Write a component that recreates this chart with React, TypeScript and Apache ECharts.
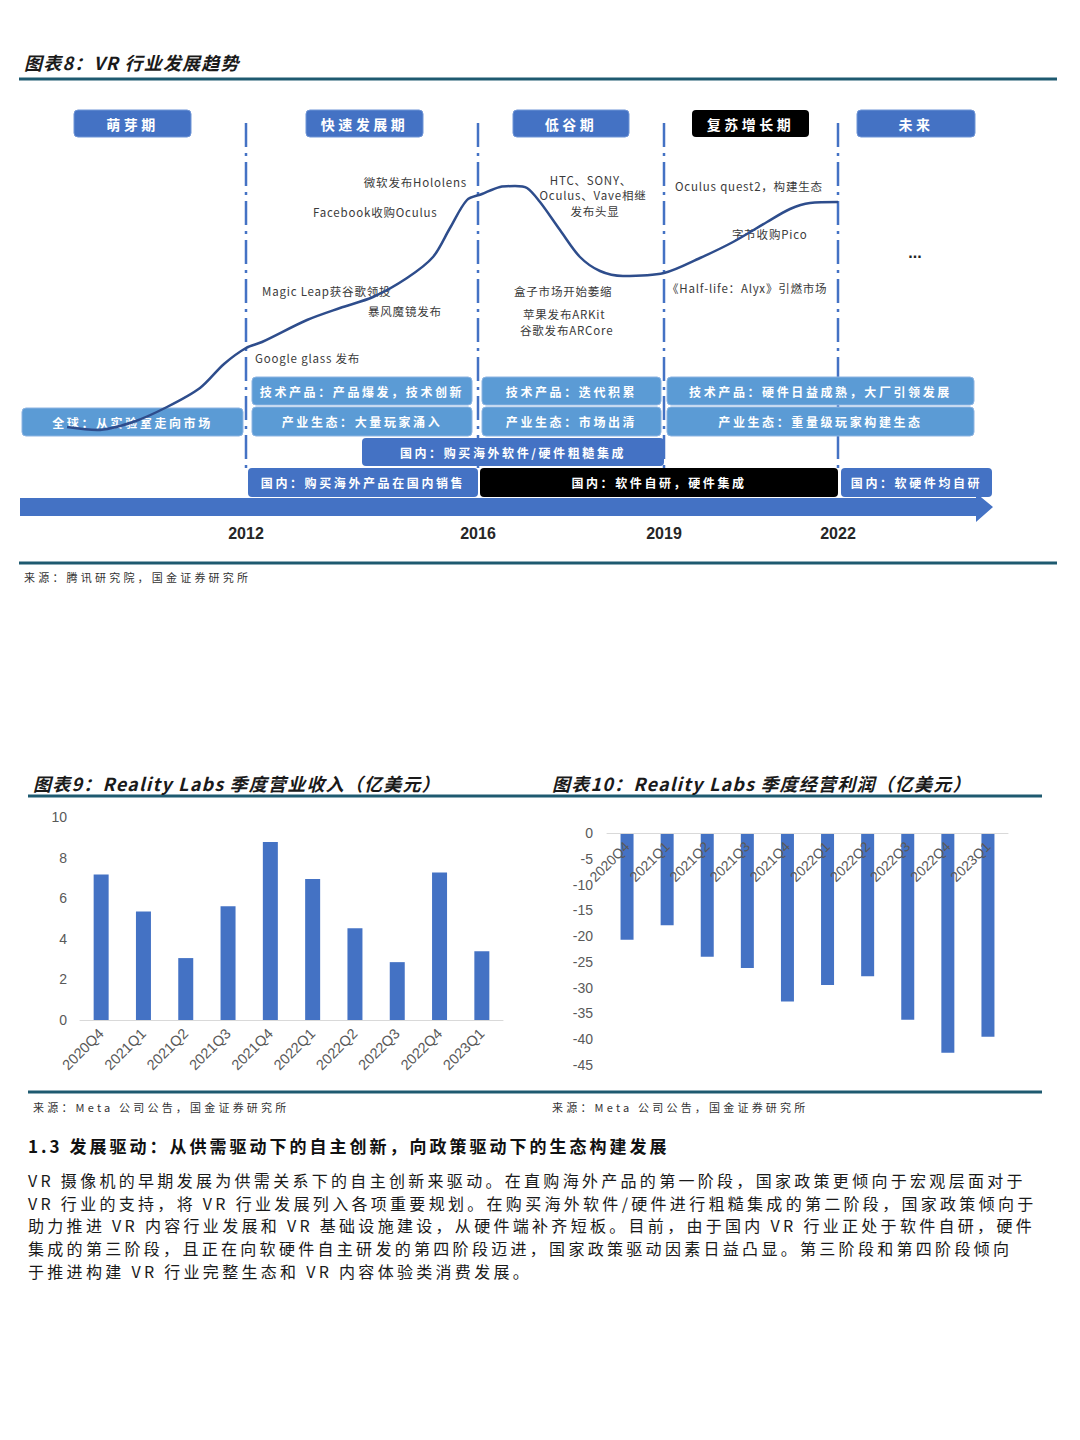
import React, { useEffect, useRef } from "react";
import * as echarts from "echarts";

// ---------------- data ----------------
const quarters = ["2020Q4", "2021Q1", "2021Q2", "2021Q3", "2021Q4", "2022Q1", "2022Q2", "2022Q3", "2022Q4", "2023Q1"];
const revenue = [7.17, 5.34, 3.05, 5.6, 8.77, 6.95, 4.52, 2.85, 7.27, 3.39];
const operatingProfit = [-20.7, -17.9, -24.0, -26.2, -32.7, -29.5, -27.8, -36.2, -42.6, -39.5];
const revenueTicks = { min: 0, max: 10, interval: 2 };
const profitTicks = { min: -45, max: 0, interval: 5 };

// schematic industry "heat" curve (timeline position, heat index)
const trendPos = [47, 77, 113, 147, 180, 204, 226, 242, 287, 320, 353, 387, 413, 430, 447, 462, 480, 495, 507, 520, 540, 560, 580, 603, 644, 680, 713, 747, 770, 790, 818];
const trendHeat = [73, 70, 78, 93, 112, 136, 152, 158, 180, 192, 203, 222, 243, 272, 300, 306, 313, 314, 312, 298, 270, 243, 229, 224, 227, 242, 258, 278, 291, 297, 298];

const phases = ["萌芽期", "快速发展期", "低谷期", "复苏增长期", "未来"];
const yearTicks = ["2012", "2016", "2019", "2022"];
const techRow = ["技术产品：产品爆发，技术创新", "技术产品：迭代积累", "技术产品：硬件日益成熟，大厂引领发展"];
const ecoRow = ["全球：从实验室走向市场", "产业生态：大量玩家涌入", "产业生态：市场出清", "产业生态：重量级玩家构建生态"];
const domesticRowA = ["国内：购买海外软件/硬件粗糙集成"];
const domesticRowB = ["国内：购买海外产品在国内销售", "国内：软件自研，硬件集成", "国内：软硬件均自研"];
const events = [
  "微软发布Hololens",
  "Facebook收购Oculus",
  "Magic Leap获谷歌领投",
  "暴风魔镜发布",
  "Google glass 发布",
  "HTC、SONY、",
  "Oculus、Vave相继",
  "发布头显",
  "盒子市场开始萎缩",
  "苹果发布ARKit",
  "谷歌发布ARCore",
  "Oculus quest2，构建生态",
  "字节收购Pico",
  "《Half-life：Alyx》引燃市场",
];
const titles = ["图表8：VR 行业发展趋势", "图表9：Reality Labs 季度营业收入（亿美元）", "图表10：Reality Labs 季度经营利润（亿美元）"];
const sources = ["来源：腾讯研究院，国金证券研究所", "来源：Meta 公司公告，国金证券研究所", "来源：Meta 公司公告，国金证券研究所"];
const heading = "1.3 发展驱动：从供需驱动下的自主创新，向政策驱动下的生态构建发展";
const paragraph = [
  "VR 摄像机的早期发展为供需关系下的自主创新来驱动。在直购海外产品的第一阶段，国家政策更倾向于宏观层面对于",
  "VR 行业的支持，将 VR 行业发展列入各项重要规划。在购买海外软件/硬件进行粗糙集成的第二阶段，国家政策倾向于",
  "助力推进 VR 内容行业发展和 VR 基础设施建设，从硬件端补齐短板。目前，由于国内 VR 行业正处于软件自研，硬件",
  "集成的第三阶段，且正在向软硬件自主研发的第四阶段迈进，国家政策驱动因素日益凸显。第三阶段和第四阶段倾向",
  "于推进构建 VR 行业完整生态和 VR 内容体验类消费发展。",
];

// ---------------- layout & style ----------------
const CJK = "'Noto Sans CJK SC', sans-serif";
const LAT = "'Liberation Sans', Arial, sans-serif";
const BLUE = "#4472c4";
const LIGHT = "#5b9bd5";
const RULE = "#1e5a70";

const phaseBoxes = [
  [74, 110, 117, 27, BLUE],
  [306, 110, 117, 27, BLUE],
  [513, 110, 116, 27, BLUE],
  [692, 110, 117, 27, "#000000"],
  [857, 110, 118, 27, BLUE],
];
const dividerX = [246, 478, 664, 838];
const techBoxes = [
  [252, 377, 220, 28],
  [482, 377, 179, 28],
  [667, 377, 307, 28],
];
const ecoBoxes = [
  [22, 408, 221, 28],
  [252, 407, 220, 29],
  [482, 407, 179, 29],
  [667, 407, 307, 29],
];
const domABoxes = [[362, 438, 302, 28, BLUE]];
const domBBoxes = [
  [248, 468, 230, 29, BLUE],
  [480, 468, 358, 29, "#000000"],
  [841, 468, 151, 29, BLUE],
];
// [x, y, align]
const eventLayout: [number, number, string][] = [
  [467, 182, "right"],
  [313, 212, "left"],
  [262, 291, "left"],
  [368, 311, "left"],
  [255, 358, "left"],
  [591, 180, "center"],
  [593, 195, "center"],
  [595, 211, "center"],
  [514, 291, "left"],
  [523, 314, "left"],
  [520, 330, "left"],
  [675, 186, "left"],
  [732, 234, "left"],
  [667, 288, "left"],
];

const css = `
#vr-page text[style*="CJK"][style*="18px"]{letter-spacing:1.2px}
#vr-page text[style*="CJK"][style*="17px"]{letter-spacing:3px}
#vr-page text[style*="CJK"][style*="16px"]{letter-spacing:3.3px}
#vr-page text[style*="CJK"][style*="14px"]{letter-spacing:3.5px}
#vr-page text[style*="CJK"][style*="12px"]{letter-spacing:2.6px}
#vr-page text[style*="CJK"][style*="11.5px"]{letter-spacing:0.8px}
#vr-page text[style*="CJK"][style*="11px"]{letter-spacing:3.2px}
`;

function rect(b: any[], fill: string, stroke = "none") {
  return {
    type: "rect",
    z: 1,
    shape: { x: b[0], y: b[1], width: b[2], height: b[3], r: 4 },
    style: { fill, stroke, lineWidth: 1 },
  };
}
function text(x: number, y: number, t: string, size: number, o: any = {}) {
  return {
    type: "text",
    z: 2,
    x,
    y,
    style: {
      text: t,
      fontSize: size,
      fontFamily: o.family || CJK,
      fontWeight: o.weight || "normal",
      fontStyle: o.style || "normal",
      fill: o.fill || "#222222",
      align: o.align || "left",
      verticalAlign: "middle",
    },
  };
}
function hline(x1: number, x2: number, y: number, w = 3, color = RULE) {
  return { type: "line", z: 1, shape: { x1, y1: y, x2, y2: y }, style: { stroke: color, lineWidth: w } };
}
function boxWithText(b: any[], t: string, fill: string, size: number, stroke = "none") {
  return [
    rect(b, fill, stroke),
    text(b[0] + b[2] / 2, b[1] + b[3] / 2, t, size, { fill: "#ffffff", weight: "bold", align: "center" }),
  ];
}

function buildGraphics() {
  const els: any[] = [];
  els.push(text(24, 62, titles[0], 18, { weight: "bold", style: "italic", fill: "#1a1a1a" }));
  els.push(hline(19, 1057, 79));
  dividerX.forEach((x) =>
    els.push({
      type: "line",
      z: 0,
      shape: { x1: x, y1: 123, x2: x, y2: 468 },
      style: { stroke: BLUE, lineWidth: 2.5, lineDash: [24, 6, 3, 6] },
    })
  );
  els.push({
    type: "polygon",
    z: 0,
    shape: { points: [[20, 498], [976, 498], [976, 493], [993, 507], [976, 522], [976, 516], [20, 516]] },
    style: { fill: BLUE },
  });
  phases.forEach((p, i) => {
    const b = phaseBoxes[i];
    els.push(...boxWithText(b, p, b[4] as string, 14, b[4] === BLUE ? "#6f95d6" : "none"));
  });
  techRow.forEach((t, i) => els.push(...boxWithText(techBoxes[i], t, LIGHT, 12, "#8db4e2")));
  ecoRow.forEach((t, i) => els.push(...boxWithText(ecoBoxes[i], t, LIGHT, 12, "#8db4e2")));
  domesticRowA.forEach((t, i) => els.push(...boxWithText(domABoxes[i], t, domABoxes[i][4] as string, 12)));
  domesticRowB.forEach((t, i) => els.push(...boxWithText(domBBoxes[i], t, domBBoxes[i][4] as string, 12)));
  events.forEach((t, i) => {
    const [x, y, align] = eventLayout[i];
    els.push(text(x, y, t, 11.5, { fill: "#3a3a3a", align }));
  });
  els.push(text(915, 252, "...", 16, { family: LAT, weight: "bold", fill: "#222222", align: "center" }));
  yearTicks.forEach((t, i) =>
    els.push(text(dividerX[i], 533, t, 16, { family: LAT, weight: "bold", fill: "#262626", align: "center" }))
  );
  els.push(hline(19, 1057, 563));
  els.push(text(24, 577, sources[0], 11, { fill: "#333333" }));

  els.push(text(33, 783, titles[1], 18, { weight: "bold", style: "italic", fill: "#1a1a1a" }));
  els.push(text(552, 783, titles[2], 18, { weight: "bold", style: "italic", fill: "#1a1a1a" }));
  els.push(hline(28, 1042, 796));
  els.push(hline(28, 1042, 1092));
  els.push(text(33, 1107, sources[1], 11, { fill: "#333333" }));
  els.push(text(552, 1107, sources[2], 11, { fill: "#333333" }));

  els.push(text(28, 1145, heading, 17, { weight: "bold", fill: "#111111" }));
  const lineY = [1180, 1202.5, 1225, 1248, 1270.5];
  paragraph.forEach((p, i) => els.push(text(28, lineY[i], p, 16, { fill: "#1a1a1a" })));
  return els;
}

export default function App() {
  const ref = useRef<HTMLDivElement>(null);
  useEffect(() => {
    if (!ref.current) return;
    const chart = echarts.init(ref.current, undefined, { renderer: "svg" });
    const axisLabelBase = { color: "#595959", fontFamily: LAT };
    const profitGridHeight = 232;
    const option: any = {
      animation: false,
      backgroundColor: "#ffffff",
      grid: [
        { left: 20, top: 100, width: 1000, height: 400 },
        { left: 80, top: 817, width: 423, height: 203 },
        { left: 607, top: 833, width: 401, height: profitGridHeight },
      ],
      xAxis: [
        { gridIndex: 0, type: "value", min: 0, max: 1000, show: false },
        {
          gridIndex: 1,
          type: "category",
          data: quarters,
          axisLine: { lineStyle: { color: "#d9d9d9", width: 1 } },
          axisTick: { show: false },
          axisLabel: { ...axisLabelBase, rotate: 45, interval: 0, fontSize: 14.5, margin: 11 },
        },
        {
          gridIndex: 2,
          type: "category",
          position: "bottom",
          offset: -profitGridHeight,
          data: quarters,
          z: 10,
          axisLine: { onZero: false, lineStyle: { color: "#d9d9d9", width: 1 } },
          axisTick: { show: false },
          axisLabel: { ...axisLabelBase, rotate: 45, interval: 0, fontSize: 14, margin: 11 },
        },
      ],
      yAxis: [
        { gridIndex: 0, type: "value", min: 0, max: 400, show: false },
        {
          gridIndex: 1,
          type: "value",
          ...revenueTicks,
          splitLine: { show: false },
          axisLine: { show: false },
          axisTick: { show: false },
          axisLabel: { ...axisLabelBase, fontSize: 14, margin: 13 },
        },
        {
          gridIndex: 2,
          type: "value",
          ...profitTicks,
          splitLine: { show: false },
          axisLine: { show: false },
          axisTick: { show: false },
          axisLabel: { ...axisLabelBase, fontSize: 14, margin: 14 },
        },
      ],
      series: [
        {
          type: "line",
          xAxisIndex: 0,
          yAxisIndex: 0,
          data: trendPos.map((x, i) => [x, trendHeat[i]]),
          smooth: 0.3,
          symbol: "none",
          lineStyle: { color: "#2e4d8c", width: 2.5 },
          z: 3,
        },
        {
          type: "bar",
          xAxisIndex: 1,
          yAxisIndex: 1,
          data: revenue,
          barWidth: 15,
          itemStyle: { color: BLUE },
        },
        {
          type: "bar",
          xAxisIndex: 2,
          yAxisIndex: 2,
          data: operatingProfit,
          barWidth: 13,
          itemStyle: { color: BLUE },
        },
      ],
      graphic: { elements: buildGraphics() },
    };
    chart.setOption(option);
    return () => chart.dispose();
  }, []);
  return (
    <div>
      <style>{css}</style>
      <div id="vr-page" ref={ref} style={{ position: "absolute", left: 0, top: 0, width: 1080, height: 1440 }} />
    </div>
  );
}
